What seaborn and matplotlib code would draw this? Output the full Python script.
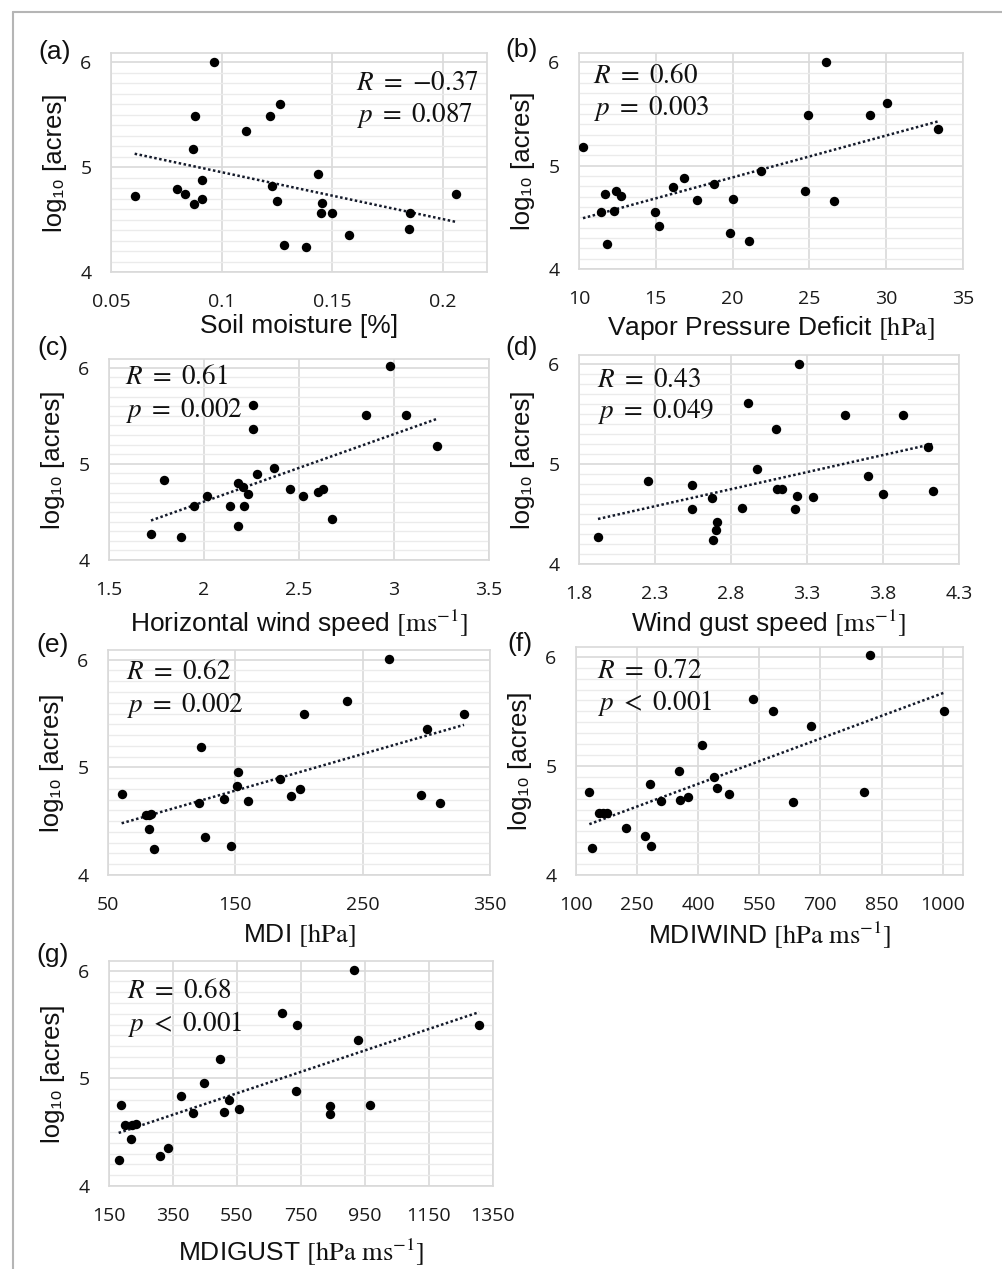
import numpy as np
import pandas as pd
import matplotlib
matplotlib.use("Agg")
import matplotlib.pyplot as plt
from matplotlib.lines import Line2D
from matplotlib.ticker import MultipleLocator, FixedLocator, FixedFormatter
import seaborn as sns

# ---------------- data ----------------
xa = [0.0607, 0.080, 0.0836, 0.0874, 0.0879, 0.0871, 0.091, 0.0912, 0.0965, 0.1112, 0.122, 0.1263,
      0.123, 0.1251, 0.1281, 0.138, 0.1437, 0.1455, 0.145, 0.1497, 0.1575, 0.1847, 0.1854, 0.206]
ya = [4.73, 4.79, 4.74, 4.65, 5.49, 5.17, 4.88, 4.70, 6.00, 5.35, 5.49, 5.60,
      4.82, 4.68, 4.26, 4.24, 4.94, 4.66, 4.56, 4.56, 4.35, 4.41, 4.56, 4.74]

xb = [10.26, 11.43, 11.69, 11.8, 12.3, 12.43, 12.73, 14.95, 15.23, 16.1, 16.86, 17.66,
      18.8, 19.83, 20.05, 21.07, 21.85, 24.69, 24.91, 26.1, 26.62, 28.92, 30.03, 33.4]
yb = [5.18, 4.55, 4.73, 4.24, 4.56, 4.75, 4.71, 4.55, 4.42, 4.79, 4.88, 4.67,
      4.82, 4.35, 4.68, 4.27, 4.95, 4.75, 5.49, 6.00, 4.66, 5.49, 5.61, 5.35]

xc = [1.721, 1.788, 1.881, 1.947, 2.014, 2.139, 2.181, 2.181, 2.204, 2.21, 2.23, 2.256,
      2.256, 2.28, 2.367, 2.453, 2.52, 2.60, 2.628, 2.674, 2.851, 2.98, 3.064, 3.228]
yc = [4.275, 4.83, 4.24, 4.565, 4.665, 4.565, 4.80, 4.355, 4.76, 4.565, 4.69, 5.61,
      5.36, 4.89, 4.955, 4.74, 4.67, 4.71, 4.74, 4.43, 5.505, 6.02, 5.505, 5.19]

xd = [1.925, 2.252, 2.541, 2.546, 2.673, 2.679, 2.699, 2.71, 2.872, 2.914, 2.971, 3.096,
      3.10, 3.138, 3.221, 3.234, 3.25, 3.337, 3.552, 3.699, 3.80, 3.934, 4.098, 4.131]
yd = [4.267, 4.825, 4.79, 4.554, 4.658, 4.237, 4.344, 4.417, 4.56, 5.606, 4.945, 5.349,
      4.745, 4.745, 4.554, 4.681, 6.00, 4.668, 5.49, 4.878, 4.70, 5.49, 5.175, 4.728]

xe = [60.7, 80.0, 82.0, 84.0, 82.5, 86.1, 121.7, 122.8, 126.2, 141.4, 146.6, 152.1,
      151.6, 160.2, 185.3, 194.0, 200.5, 203.9, 237.7, 270.9, 295.8, 300.3, 310.5, 329.6]
ye = [4.757, 4.56, 4.56, 4.567, 4.43, 4.245, 4.673, 5.185, 4.353, 4.71, 4.273, 4.955,
      4.828, 4.688, 4.89, 4.738, 4.797, 5.50, 5.612, 6.01, 4.747, 5.36, 4.667, 5.50]

xf = [132.8, 139.3, 157.3, 167.1, 176.9, 222.0, 269.5, 281.8, 284.2, 309.6, 352.2, 356.3,
      375.9, 408.7, 439.8, 446.4, 475.0, 535.6, 584.7, 633.8, 676.4, 805.8, 822.2, 1002.3]
yf = [4.757, 4.243, 4.566, 4.566, 4.566, 4.434, 4.357, 4.83, 4.27, 4.677, 4.954, 4.69,
      4.714, 5.19, 4.898, 4.8, 4.74, 5.615, 5.505, 4.668, 5.366, 4.757, 6.018, 5.505]

xg = [180.2, 188.5, 201.0, 219.7, 222.8, 233.2, 308.1, 333.0, 375.7, 412.1, 447.5, 496.3,
      510.9, 524.4, 555.6, 689.8, 734.5, 737.7, 839.6, 839.6, 914.5, 929.1, 965.5, 1306.5]
yg = [4.244, 4.757, 4.566, 4.433, 4.566, 4.572, 4.278, 4.355, 4.832, 4.674, 4.955, 5.184,
      4.689, 4.798, 4.711, 5.607, 4.887, 5.499, 4.742, 4.665, 6.01, 5.36, 4.757, 5.499]

panel_letters = ["(a)", "(b)", "(c)", "(d)", "(e)", "(f)", "(g)"]
xlabels = [
    "Soil moisture [%]",
    r"Vapor Pressure Deficit $[\mathrm{hPa}]$",
    r"Horizontal wind speed $[\mathrm{ms}^{-1}]$",
    r"Wind gust speed $[\mathrm{ms}^{-1}]$",
    r"MDI $[\mathrm{hPa}]$",
    r"MDIWIND $[\mathrm{hPa\ ms}^{-1}]$",
    r"MDIGUST $[\mathrm{hPa\ ms}^{-1}]$",
]
ylabel = "log\u2081\u2080 [acres]"
r_texts = [r"$R\ =\ {-}0.37$", r"$R\ =\ 0.60$", r"$R\ =\ 0.61$", r"$R\ =\ 0.43$",
           r"$R\ =\ 0.62$", r"$R\ =\ 0.72$", r"$R\ =\ 0.68$"]
p_texts = [r"$p\ =\ 0.087$", r"$p\ =\ 0.003$", r"$p\ =\ 0.002$", r"$p\ =\ 0.049$",
           r"$p\ =\ 0.002$", r"$p\ <\ 0.001$", r"$p\ <\ 0.001$"]

xtick_vals = [
    [0.05, 0.1, 0.15, 0.2],
    [10, 15, 20, 25, 30, 35],
    [1.5, 2, 2.5, 3, 3.5],
    [1.8, 2.3, 2.8, 3.3, 3.8, 4.3],
    [50, 150, 250, 350],
    [100, 250, 400, 550, 700, 850, 1000],
    [150, 350, 550, 750, 950, 1150, 1350],
]
xtick_labels = [
    ["0.05", "0.1", "0.15", "0.2"],
    ["10", "15", "20", "25", "30", "35"],
    ["1.5", "2", "2.5", "3", "3.5"],
    ["1.8", "2.3", "2.8", "3.3", "3.8", "4.3"],
    ["50", "150", "250", "350"],
    ["100", "250", "400", "550", "700", "850", "1000"],
    ["150", "350", "550", "750", "950", "1150", "1350"],
]
xlims = [(0.05, 0.22), (10, 35), (1.5, 3.5), (1.8, 4.3), (50, 350), (100, 1050), (150, 1350)]
ytick_vals = [4, 5, 6]
ytick_labels = ["4", "5", "6"]

xs = [xa, xb, xc, xd, xe, xf, xg]
ys = [ya, yb, yc, yd, ye, yf, yg]

# ---------------- layout (pixels) ----------------
W, H = 1003, 1269
boxes = [
    (111, 53, 487, 272),
    (579, 53, 963, 269),
    (109, 359, 489, 560),
    (579, 355, 959, 564),
    (108, 650, 490, 875),
    (576, 647, 963, 875),
    (109, 961, 493, 1186),
]
letter_pos = [(55, 52), (522, 50), (53, 348), (522, 348), (53, 645), (520, 644), (53, 955)]
rp_pos = [(356, 90, 122), (593, 83, 115), (125, 384, 417), (597, 387, 418),
          (126, 679, 712), (597, 678, 710), (127, 998, 1031)]
xlab_off = [42, 45, 48, 44, 46, 44, 50]

sns.set_theme(style="white")
plt.rcParams["font.family"] = ["Liberation Sans", "DejaVu Sans"]
plt.rcParams["mathtext.fontset"] = "stix"

fig = plt.figure(figsize=(W / 100, H / 100), dpi=100)
fig.patch.set_facecolor("white")

grid_major = "#d9d9d9"
grid_minor = "#ebebeb"
tick_font = ["Open Sans", "DejaVu Sans"]

for i in range(7):
    l, t, r, b = boxes[i]
    ax = fig.add_axes([l / W, 1 - b / H, (r - l) / W, (b - t) / H])
    df = pd.DataFrame({"x": xs[i], "y": ys[i]})
    sns.regplot(data=df, x="x", y="y", ax=ax, scatter=False, ci=None, truncate=True,
                line_kws=dict(color="#141a2a", lw=1.8, linestyle=(0, (1, 1.0))))
    sns.scatterplot(data=df, x="x", y="y", ax=ax, color="black", s=46,
                    edgecolor="black", linewidth=0, zorder=5)
    ax.set_xlim(*xlims[i])
    ax.set_ylim(4, 6.09)
    ax.xaxis.set_major_locator(FixedLocator(xtick_vals[i]))
    ax.xaxis.set_major_formatter(FixedFormatter(xtick_labels[i]))
    ax.yaxis.set_major_locator(FixedLocator(ytick_vals))
    ax.yaxis.set_major_formatter(FixedFormatter(ytick_labels))
    ax.yaxis.set_minor_locator(MultipleLocator(0.1))
    ax.set_axisbelow(True)
    ax.grid(which="major", color=grid_major, lw=1.2)
    ax.grid(which="minor", axis="y", color=grid_minor, lw=1.0)
    for sp in ax.spines.values():
        sp.set_color(grid_major)
        sp.set_linewidth(1.2)
    ax.tick_params(axis="both", which="both", length=0)
    ax.tick_params(axis="x", pad=15)
    ax.tick_params(axis="y", pad=14)
    for lab in ax.get_xticklabels() + ax.get_yticklabels():
        lab.set_fontfamily(tick_font)
        lab.set_fontsize(14)
        lab.set_color("#1a1a1a")
    ax.set_xlabel(xlabels[i], fontsize=19, color="#111111")
    ax.set_ylabel(ylabel, fontsize=18.5, color="#111111")
    wpx, hpx = r - l, b - t
    ax.xaxis.set_label_coords(0.5, -xlab_off[i] / hpx)
    ax.yaxis.set_label_coords(-44 / wpx, 0.5)

    lx, ly = letter_pos[i]
    fig.text(lx / W, 1 - ly / H, panel_letters[i], fontsize=19, ha="center", va="center",
             color="#111111")
    rx, ry1, ry2 = rp_pos[i]
    fig.text(rx / W, 1 - ry1 / H, r_texts[i], fontsize=19.5, ha="left", va="baseline",
             color="#111111")
    fig.text(rx / W, 1 - ry2 / H, p_texts[i], fontsize=19.5, ha="left", va="baseline",
             color="#111111")

# outer frame (top and left edges visible)
fig.add_artist(Line2D([13 / W, 1.0], [1 - 12 / H, 1 - 12 / H], transform=fig.transFigure,
                      color="#b5b5b5", lw=1.5))
fig.add_artist(Line2D([13 / W, 13 / W], [0, 1 - 12 / H], transform=fig.transFigure,
                      color="#b5b5b5", lw=1.5))

fig.savefig("out.png", dpi=100, facecolor="white")
